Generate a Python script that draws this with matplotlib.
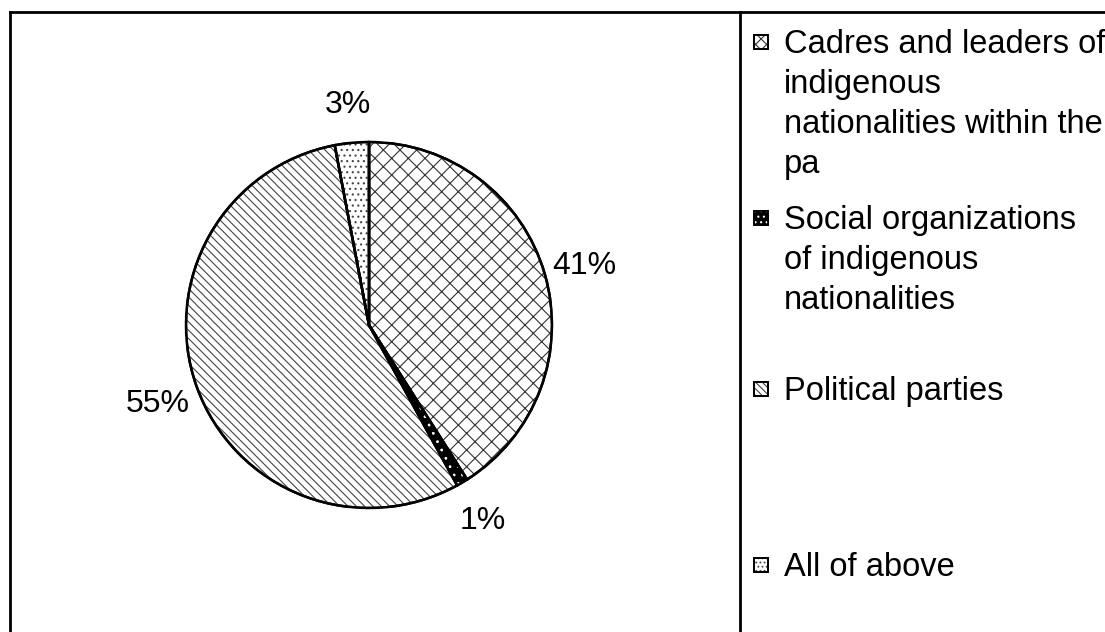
import matplotlib
matplotlib.use("Agg")
import matplotlib.pyplot as plt
from matplotlib.patches import Wedge, Rectangle
from matplotlib.lines import Line2D

plt.rcParams['font.family'] = ['Liberation Sans', 'DejaVu Sans']
plt.rcParams['hatch.linewidth'] = 0.8

categories = ["Cadres and leaders of\nindigenous\nnationalities within the\npa",
              "Social organizations\nof indigenous\nnationalities",
              "Political parties",
              "All of above"]
values = [41, 1, 55, 3]
hatches = ['xx', '..', '\\\\\\\\', '...']
legend_hatches = ['xxx', '...', '\\\\\\\\\\', '....']
facecolors = ['white', 'black', 'white', 'white']
hatchcolors = ['#333333', 'white', '#444444', '#444444']

W, H = 1105, 632
fig = plt.figure(figsize=(W / 100, H / 100), dpi=100)
FS_LAB = 23
FS_LEG = 23.5

# pie axes: center (369,325), radius 183 px
cx, cy, r = 369, 325, 183
ax = fig.add_axes([(cx - r) / W, 1 - (cy + r) / H, 2 * r / W, 2 * r / H])
wedges, _, autotexts = ax.pie(values, startangle=90, counterclock=False, radius=1,
                              colors=facecolors, autopct=lambda p: f"{p:.0f}%",
                              pctdistance=1.225,
                              textprops=dict(fontsize=FS_LAB),
                              wedgeprops=dict(edgecolor='black', linewidth=1.8))
for t in autotexts:
    t.set_va('center_baseline')
for w, h, hc in zip(wedges, hatches, hatchcolors):
    ov = Wedge(w.center, w.r, w.theta1, w.theta2, facecolor='none',
               edgecolor=hc, hatch=h, linewidth=0, zorder=w.get_zorder() + 0.1)
    ax.add_patch(ov)
    outline = Wedge(w.center, w.r, w.theta1, w.theta2, facecolor='none',
                    edgecolor='black', linewidth=1.8, zorder=w.get_zorder() + 0.2)
    ax.add_patch(outline)
ax.set_xlim(-1, 1)
ax.set_ylim(-1, 1)
ax.set_aspect('equal')
ax.axis('off')

# frame lines
lw = 2.0
fig.add_artist(Line2D([10 / W, 1], [1 - 12 / H, 1 - 12 / H], color='black', lw=lw))
fig.add_artist(Line2D([10 / W, 10 / W], [0, 1 - 12 / H], color='black', lw=lw))
fig.add_artist(Line2D([740 / W, 740 / W], [0, 1 - 12 / H], color='black', lw=lw))

# legend
first_baseline = [53, 229, 400, 576]
line_step = 40
sq = 14
for cat, b0, fc, h, hc in zip(categories, first_baseline, facecolors, legend_hatches, hatchcolors):
    yc = b0 - 11
    for fcol, ecol, hh in [(fc, 'black', None), ('none', hc, h), ('none', 'black', None)]:
        fig.add_artist(Rectangle(((761 - sq / 2) / W, 1 - (yc + sq / 2) / H), sq / W, sq / H,
                                 facecolor=fcol, edgecolor=ecol, hatch=hh,
                                 linewidth=0 if hh else 1.3,
                                 transform=fig.transFigure))
    for i, line in enumerate(cat.split('\n')):
        fig.text(784 / W, 1 - (b0 + i * line_step) / H, line, fontsize=FS_LEG,
                 ha='left', va='baseline')

fig.savefig("out.png", dpi=100)
